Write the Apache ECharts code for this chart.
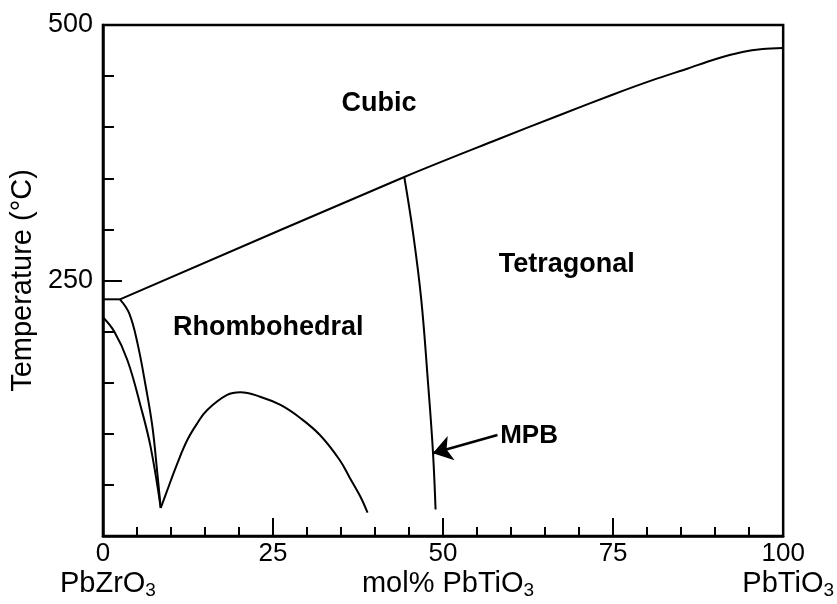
<!DOCTYPE html>
<html><head><meta charset="utf-8">
<script src="https://cdn.jsdelivr.net/npm/echarts@6/dist/echarts.min.js"></script>
<style>html,body{margin:0;padding:0;background:#fff}#c{width:837px;height:604px}</style>
</head><body><div id="c"></div>
<script>
// ---- data (axis units: mol% PbTiO3, temperature °C) ----
const xTickValues = [0, 25, 50, 75, 100];
const xTickLabels = ['0', '25', '50', '75', '100'];
const xSubNames = ['PbZrO', '', 'mol% PbTiO', '', 'PbTiO'];
const yTickValues = [250, 500];
const yTickLabels = ['250', '500'];
const yAxisTitle = 'Temperature (°C)';

const curieFlat = [[0, 231.6], [2.5, 231.6]];
const curieLine = [[2.5, 231.6], [44.3, 351.3], [58, 388], [67, 411.5], [75, 432], [81, 446.5], [86, 457.5], [90, 466.5], [94, 473.5], [97, 476.5], [100, 477.5]];
const rhomboHtLt = [[2.5, 231.6], [3.85, 218], [5.08, 188.5], [6.3, 146], [7.27, 107], [8.0, 61], [8.5, 27.4]];
const afeFe = [[0, 214], [1.66, 200], [3.6, 172], [5.56, 126.5], [7.0, 87.4], [8.5, 27.4]];
const dome = [[8.5, 27.4], [9.47, 45], [10.94, 71.1], [12.4, 93.9], [13.87, 110.3], [15.33, 123.3], [18.26, 138], [20.2, 140.6], [23.1, 136.3], [26.1, 128.2], [29, 115.5], [31.9, 98.8], [34.8, 74.4], [36.3, 56.8], [37.8, 39.1], [38.9, 22.8]];
const mpbLine = [[44.3, 351.3], [45.6, 296], [46.8, 231], [47.8, 149], [48.5, 84], [48.9, 26]];

const phaseNames = ['Cubic', 'Tetragonal', 'Rhombohedral'];
const phaseAnchors = [[40.6, 422.7], [68.2, 265.2], [24.3, 203.5]];
const mpbName = 'MPB';
const mpbAnchor = [58.4, 97.8];
const arrowFrom = [58.0, 98.8];
const arrowTo = [48.5, 80.9];

// ---- chart ----
const chart = echarts.init(document.getElementById('c'), null, {renderer: 'canvas'});
const FONT = '"Liberation Sans", Arial, Helvetica, sans-serif';
const black = '#000';

function curve(data, smooth) {
  return {
    type: 'line', data: data, symbol: 'none', smooth: smooth,
    lineStyle: {color: black, width: 2}, silent: true, animation: false, z: 3
  };
}

const option = {
  animation: false,
  backgroundColor: '#fff',
  grid: {left: 102, right: 51.5, top: 25, bottom: 68, show: true, borderColor: black, borderWidth: 2.5, backgroundColor: 'transparent'},
  xAxis: {
    type: 'value', min: 0, max: 100, interval: 25,
    axisLine: {show: true, lineStyle: {color: black, width: 2.5}},
    axisTick: {show: true, inside: true, length: 18, lineStyle: {color: black, width: 2}},
    minorTick: {show: true, splitNumber: 5, length: 9, lineStyle: {color: black, width: 2}},
    splitLine: {show: false},
    axisLabel: {
      margin: 3, color: black, fontFamily: FONT, fontSize: 26,
      formatter: function (v) {
        const i = xTickValues.indexOf(v);
        if (i < 0) return '';
        let s = '{n|' + xTickLabels[i] + '}';
        if (xSubNames[i]) s += '\n{t|' + xSubNames[i] + '}{s|3}';
        return s;
      },
      rich: {
        n: {fontFamily: FONT, fontSize: 26, lineHeight: 30, color: black},
        t: {fontFamily: FONT, fontSize: 29, lineHeight: 30, padding: [0, 0, 0, 10], color: black},
        s: {fontFamily: FONT, fontSize: 19, lineHeight: 19, padding: [14, 0, 0, 0], color: black}
      }
    }
  },
  yAxis: {
    type: 'value', min: 0, max: 500, interval: 250,
    name: yAxisTitle, nameLocation: 'middle', nameGap: 63,
    nameTextStyle: {color: black, fontFamily: FONT, fontSize: 29},
    axisLine: {show: true, lineStyle: {color: black, width: 2.5}},
    axisTick: {show: true, inside: true, length: 19, lineStyle: {color: black, width: 2}},
    minorTick: {show: true, splitNumber: 5, length: 11, lineStyle: {color: black, width: 2}},
    splitLine: {show: false},
    axisLabel: {
      margin: 10, color: black, fontFamily: FONT, fontSize: 27,
      formatter: function (v) {
        const i = yTickValues.indexOf(v);
        return i < 0 ? '' : yTickLabels[i];
      }
    }
  },
  series: [
    curve(curieFlat, false),
    curve(curieLine, 0.3),
    curve(rhomboHtLt, 0.4),
    curve(afeFe, 0.4),
    curve(dome, 0.4),
    curve(mpbLine, 0.4),
    {
      type: 'scatter', symbolSize: 0, silent: true, animation: false, z: 4,
      itemStyle: {opacity: 1},
      data: phaseNames.map((n, i) => ({name: n, value: phaseAnchors[i]})),
      label: {show: true, opacity: 1, position: 'inside', formatter: '{b}', color: black, fontFamily: FONT, fontSize: 27, fontWeight: 'bold'}
    },
    {
      type: 'scatter', symbolSize: 0, silent: true, animation: false, z: 4,
      itemStyle: {opacity: 1},
      data: [{name: mpbName, value: mpbAnchor}],
      label: {show: true, opacity: 1, position: 'right', distance: 0, formatter: '{b}', color: black, fontFamily: FONT, fontSize: 26, fontWeight: 'bold'}
    },
    {
      type: 'lines', coordinateSystem: 'cartesian2d', silent: true, animation: false, z: 5,
      symbol: ['none', 'arrow'], symbolSize: [0, 19],
      lineStyle: {color: black, width: 2.5, opacity: 1, curveness: 0},
      data: [{coords: [arrowFrom, arrowTo]}]
    }
  ]
};
chart.setOption(option);
</script>
</body></html>
